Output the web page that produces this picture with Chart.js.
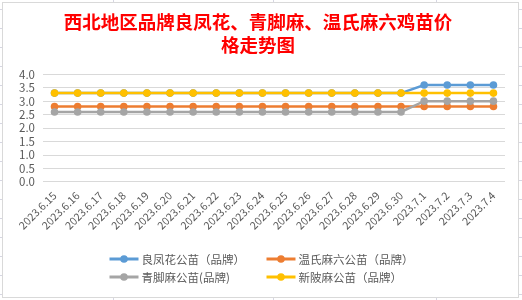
<!DOCTYPE html>
<html>
<head>
<meta charset="utf-8">
<script src="https://cdn.jsdelivr.net/npm/chart.js@4.4.0/dist/chart.umd.min.js"></script>
<style>
  body {
    margin: 0;
    width: 522px;
    height: 300px;
    background: repeating-linear-gradient(to bottom, transparent 0px, transparent 9px, #d6d6e2 9px, #d6d6e2 10px, transparent 10px, transparent 19px);
  }
  .col { position: absolute; top: 0; width: 1px; height: 300px; background: #d6d6e2; }
  #box {
    position: absolute; left: 2px; top: 2px; width: 517px; height: 296px;
    border: 1px solid #d9d9d9; box-sizing: border-box; background: #fff;
  }
</style>
</head>
<body>
<div class="col" style="left:113px"></div>
<div class="col" style="left:273px"></div>
<div class="col" style="left:436px"></div>
<div id="box"><canvas id="chart"></canvas></div>
<script>
// x axis dates
const dates = ["2023.6.15", "2023.6.16", "2023.6.17", "2023.6.18", "2023.6.19", "2023.6.20",
    "2023.6.21", "2023.6.22", "2023.6.23", "2023.6.24", "2023.6.25", "2023.6.26", "2023.6.27",
    "2023.6.28", "2023.6.29", "2023.6.30", "2023.7.1", "2023.7.2", "2023.7.3", "2023.7.4"];

// prices per brand
const liangfenghua = [3.3, 3.3, 3.3, 3.3, 3.3, 3.3, 3.3, 3.3, 3.3, 3.3, 3.3, 3.3, 3.3, 3.3, 3.3, 3.3, 3.6, 3.6, 3.6, 3.6];
const wenshi = [2.8, 2.8, 2.8, 2.8, 2.8, 2.8, 2.8, 2.8, 2.8, 2.8, 2.8, 2.8, 2.8, 2.8, 2.8, 2.8, 2.8, 2.8, 2.8, 2.8];
const qingjiao = [2.6, 2.6, 2.6, 2.6, 2.6, 2.6, 2.6, 2.6, 2.6, 2.6, 2.6, 2.6, 2.6, 2.6, 2.6, 2.6, 3.0, 3.0, 3.0, 3.0];
const xinpi = [3.3, 3.3, 3.3, 3.3, 3.3, 3.3, 3.3, 3.3, 3.3, 3.3, 3.3, 3.3, 3.3, 3.3, 3.3, 3.3, 3.3, 3.3, 3.3, 3.3];

const names = ["良凤花公苗（品牌）", "温氏麻六公苗（品牌）", "青脚麻公苗(品牌)", "新陂麻公苗（品牌）"];
const COLOURS = ["#5B9BD5", "#ED7D31", "#A5A5A5", "#FFC000"];

const TEXT = "#595959";
const FONT = "'Noto Sans CJK SC', 'Noto Sans', sans-serif";

function series(i, data) {
    return {
        label: names[i],
        data: data,
        borderColor: COLOURS[i],
        backgroundColor: COLOURS[i],
        borderWidth: 2.5,
        pointRadius: 3.8,
        pointBorderWidth: 0,
        pointBackgroundColor: COLOURS[i],
        tension: 0,
        order: 4 - i   // later series drawn on top, like excel
    };
}

// legend in a 2 x 2 grid (chart.js legend can't do columns)
const gridLegend = {
    id: "gridLegend",
    afterDraw(chart) {
        const ctx = chart.ctx;
        const ds = chart.data.datasets;
        ctx.save();
        ctx.font = "11.5px " + FONT;
        const symW = 29, gap = 3;
        const pitch = 157, total = 302;
        const x0 = (chart.width - total) / 2;
        const rows = [chart.height - 38, chart.height - 20];
        ds.forEach((d, i) => {
            const x = x0 + (i % 2) * pitch;
            const y = rows[Math.floor(i / 2)];
            ctx.strokeStyle = d.borderColor;
            ctx.lineWidth = 3;
            ctx.beginPath();
            ctx.moveTo(x, y);
            ctx.lineTo(x + symW, y);
            ctx.stroke();
            ctx.fillStyle = d.borderColor;
            ctx.beginPath();
            ctx.arc(x + symW / 2, y, 3.8, 0, Math.PI * 2);
            ctx.fill();
            ctx.fillStyle = TEXT;
            ctx.textBaseline = "middle";
            ctx.textAlign = "left";
            ctx.fillText(d.label, x + symW + gap, y + 1);
        });
        ctx.restore();
    }
};

new Chart(document.getElementById("chart"), {
    type: "line",
    data: {
        labels: dates,
        datasets: [series(0, liangfenghua), series(1, wenshi), series(2, qingjiao), series(3, xinpi)]
    },
    options: {
        responsive: true,
        maintainAspectRatio: false,
        animation: false,
        layout: { padding: { left: 8, right: 13, top: 0, bottom: 58 } },
        plugins: {
            legend: { display: false },
            tooltip: { enabled: false },
            title: {
                display: true,
                text: ["西北地区品牌良凤花、青脚麻、温氏麻六鸡苗价", "格走势图"],
                color: "#FF0000",
                font: { family: FONT, size: 18.5, weight: "bold", lineHeight: 1.25 },
                padding: { top: 7, bottom: 18 }
            }
        },
        scales: {
            x: {
                offset: true,
                grid: { display: false, drawTicks: false },
                border: { display: false },
                ticks: {
                    color: TEXT,
                    font: { family: FONT, size: 10.8 },
                    minRotation: 45,
                    maxRotation: 45,
                    autoSkip: false,
                    padding: 7
                }
            },
            y: {
                min: 0,
                max: 4,
                grid: { color: "#d9d9d9", drawTicks: false },
                border: { display: false },
                ticks: {
                    stepSize: 0.5,
                    autoSkip: false,
                    color: TEXT,
                    font: { family: FONT, size: 11.5 },
                    padding: 8,
                    callback: v => v.toFixed(1)
                }
            }
        }
    },
    plugins: [gridLegend]
});
</script>
</body>
</html>
